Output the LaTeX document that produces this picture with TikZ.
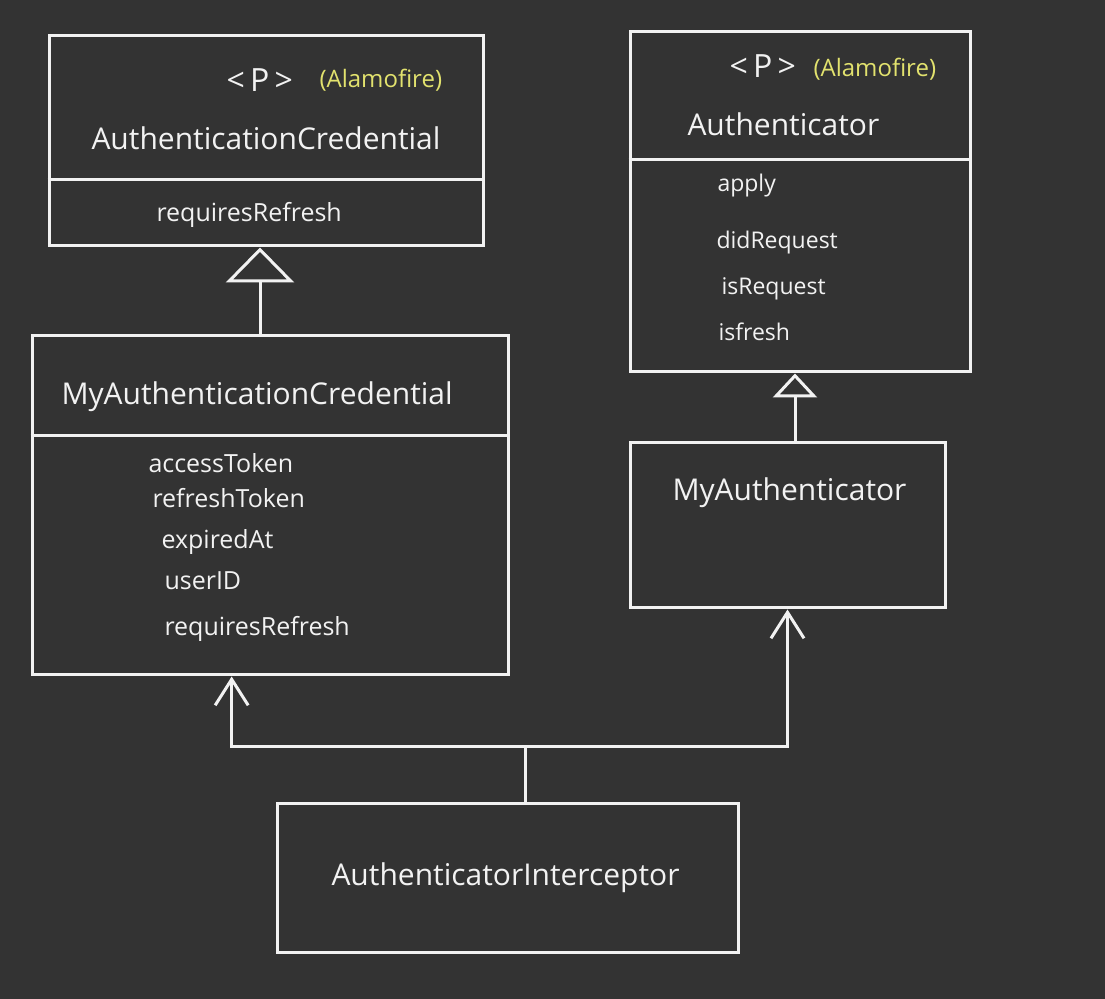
\documentclass[tikz,border=0pt]{standalone}
\usepackage{fontspec}
\setmainfont{Open Sans}
\usetikzlibrary{arrows.meta,calc}
\definecolor{board}{HTML}{333333}
\definecolor{chalk}{HTML}{F2F2F2}
\definecolor{lemon}{HTML}{E2E26E}
\tikzset{
  inherit/.style={-{Triangle[open,length=17.5pt,width=34pt]}},
  inheritsmall/.style={-{Triangle[open,length=12pt,width=22pt]}},
  uses/.style={-{Straight Barb[length=13pt,width=16.5pt]}},
  title/.style={font=\fontsize{15}{17}\selectfont},
  field/.style={font=\fontsize{12.5}{14}\selectfont},
  method/.style={font=\fontsize{11.5}{13}\selectfont},
  proto/.style={font=\fontsize{16}{18}\selectfont},
  origin/.style={text=lemon, font=\fontsize{12}{14}\selectfont}
}
\begin{document}
\begin{tikzpicture}[x=0.5pt, y=-0.5pt, line width=1.5pt, color=chalk]
   \fill[board] (0,0) rectangle (1105,999);
   \useasboundingbox (0,0) rectangle (1105,999);
 % class boxes
 \begin{scope}[every node/.style={draw, inner sep=0pt}]
   \node (cred) [minimum width=217pt, minimum height=105pt] at (266,141) {};
   \node (mycred) [minimum width=238pt, minimum height=169.5pt] at (270,505.5) {};
   \node (auth) [minimum width=170pt, minimum height=170pt] at (800,202) {};
   \node (myauth) [minimum width=157.5pt, minimum height=82.5pt] at (787.5,525.5) {};
   \node (inter) [minimum width=230.5pt, minimum height=74.5pt] at (507.5,878.5) {};
 \end{scope}
   \draw (cred.west |- 0,180) -- (cred.east |- 0,180);
   \draw (mycred.west |- 0,436) -- (mycred.east |- 0,436);
   \draw (auth.west |- 0,160) -- (auth.east |- 0,160);
 % texts
 \begin{scope}[every node/.style={anchor=west, inner sep=0pt}]
   \node (credp) [proto] at (225,80) {<\,P\,>};
   \node (credlib) [origin] at (318,80) {(Alamofire)};
   \node (credname) [title] at (90,138) {AuthenticationCredential};
   \node (credref) [field] at (155,215) {requiresRefresh};
   \node (mycredname) [title] at (60,397) {MyAuthenticationCredential};
   \node (access) [field] at (147,463) {accessToken};
   \node (refresh) [field] at (151,498) {refreshToken};
   \node (expired) [field] at (160,542) {expiredAt};
   \node (user) [field] at (163,581) {userID};
   \node (myref) [field] at (163,629) {requiresRefresh};
   \node (authp) [proto] at (728,66) {<\,P\,>};
   \node (authlib) [origin] at (812,69) {(Alamofire)};
   \node (authname) [title] at (686,124) {Authenticator};
   \node (apply) [method] at (716,186) {apply};
   \node (didreq) [method] at (715,243) {didRequest};
   \node (isreq) [method] at (720,289) {isRequest};
   \node (isfresh) [method] at (717,332) {isfresh};
   \node (myauthname) [title] at (671,493) {MyAuthenticator};
   \node (intername) [title] at (330,878) {AuthenticatorInterceptor};
 \end{scope}
 % relations
   \draw [inherit] ([xshift=-3pt]mycred.north -| cred.south) -- ([xshift=-3pt]cred.south);
   \draw [inheritsmall] ([xshift=-2.5pt]myauth.north -| auth.south) -- ([xshift=-2.5pt]auth.south);
   \coordinate (join) at (525,747);
   \draw (inter.north -| join) -- (join);
   \draw [uses] (join) -| ($(mycred.south west)!0.42!(mycred.south east)$);
   \draw [uses] (join) -| (myauth.south);
\end{tikzpicture}
\end{document}
